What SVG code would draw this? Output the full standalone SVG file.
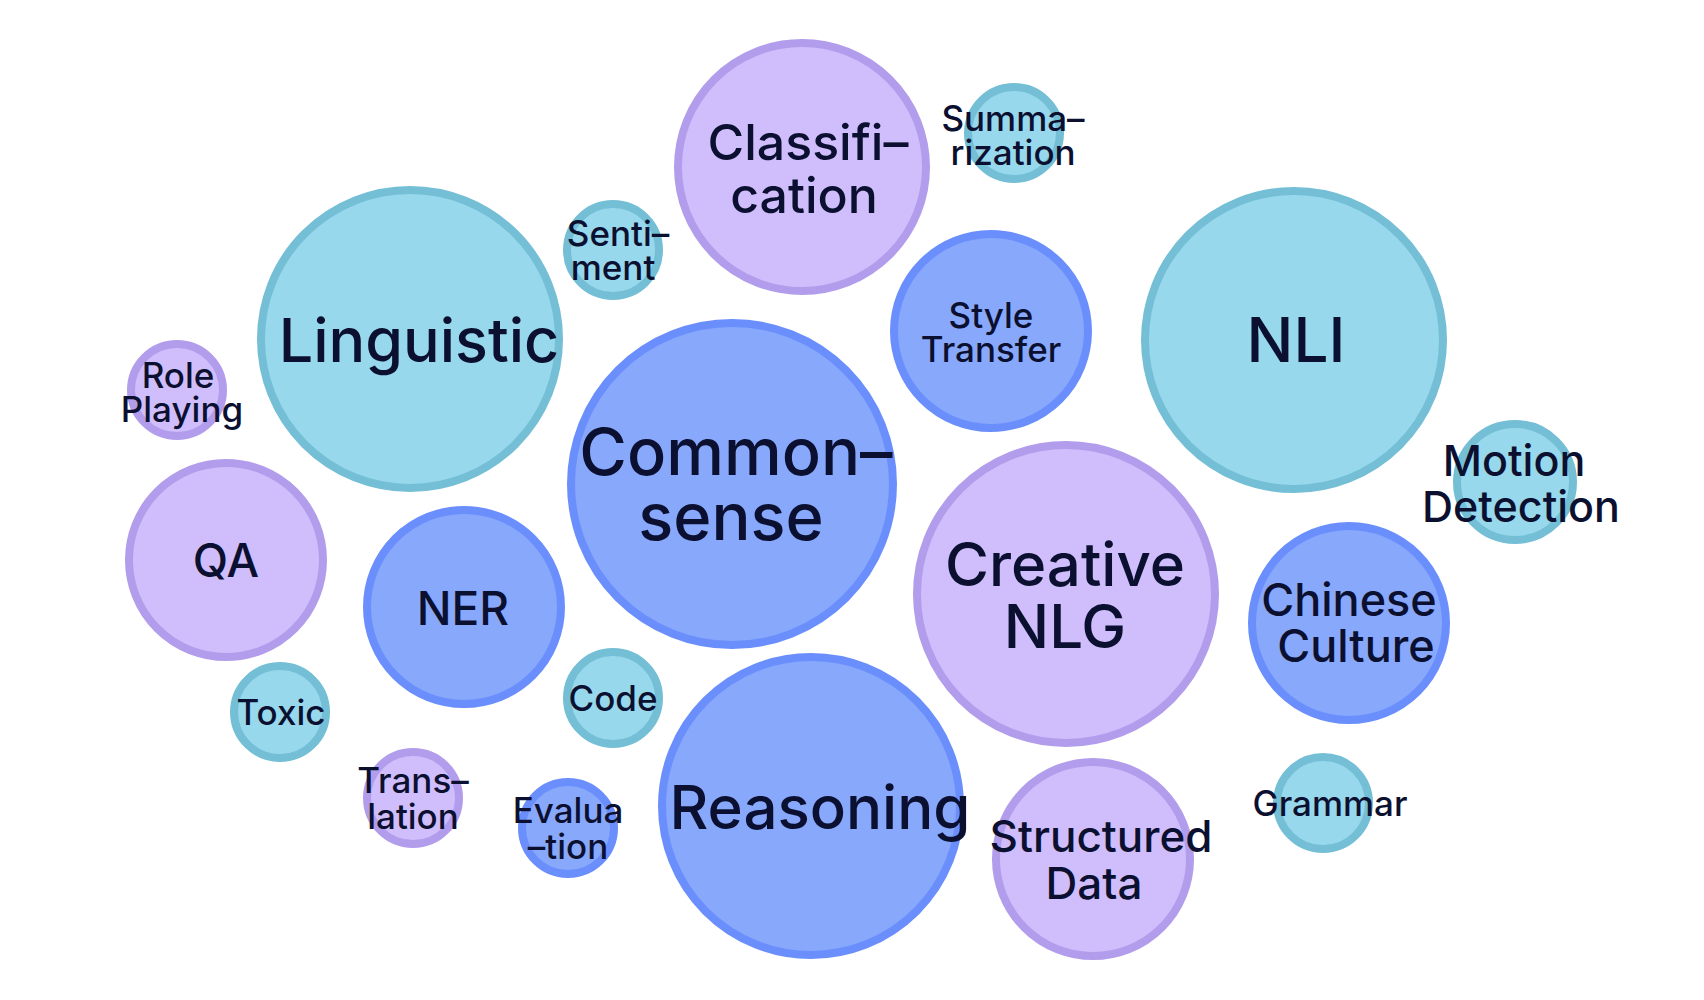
<svg xmlns="http://www.w3.org/2000/svg" width="1704" height="1000" viewBox="0 0 1704 1000">
<style>
.c{stroke-width:8}
.cy{fill:#98D8EC;stroke:#74BFD6}
.pu{fill:#D0BEFC;stroke:#B29DEC}
.bl{fill:#88A8FC;stroke:#6A8FFC}
text{font-family:Inter,"Noto Sans","Liberation Sans",sans-serif;font-weight:500;fill:#0B1030;text-anchor:middle}
</style>
<rect width="1704" height="1000" fill="#FFFFFF"/>
<g id="connectors"/>
<g id="classification"><circle class="c pu" cx="802" cy="167" r="124"/><text font-size="50"><tspan x="808" y="160">Classifi–</tspan><tspan x="804" y="213">cation</tspan></text></g>
<g id="summarization"><circle class="c cy" cx="1014" cy="133" r="46"/><text font-size="35"><tspan x="1013" y="131">Summa–</tspan><tspan x="1013" y="165">rization</tspan></text></g>
<g id="sentiment"><circle class="c cy" cx="613" cy="250" r="46"/><text font-size="35"><tspan x="618" y="246">Senti–</tspan><tspan x="613" y="280">ment</tspan></text></g>
<g id="linguistic"><circle class="c cy" cx="410" cy="339" r="149"/><text font-size="61" x="419" y="362">Linguistic</text></g>
<g id="style-transfer"><circle class="c bl" cx="991" cy="331" r="97"/><text font-size="35"><tspan x="991" y="328">Style</tspan><tspan x="991" y="362">Transfer</tspan></text></g>
<g id="nli"><circle class="c cy" cx="1294" cy="340" r="149"/><text font-size="62" x="1296" y="362">NLI</text></g>
<g id="role-playing"><circle class="c pu" cx="177" cy="390" r="46"/><text font-size="35"><tspan x="178" y="388">Role</tspan><tspan x="182" y="422">Playing</tspan></text></g>
<g id="commonsense"><circle class="c bl" cx="732" cy="484" r="161"/><text font-size="65"><tspan x="736" y="475">Common–</tspan><tspan x="731" y="540">sense</tspan></text></g>
<g id="motion-detection"><circle class="c cy" cx="1515" cy="482" r="58"/><text font-size="43"><tspan x="1514" y="476">Motion</tspan><tspan x="1521" y="522">Detection</tspan></text></g>
<g id="qa"><circle class="c pu" cx="226" cy="560" r="97"/><text font-size="46" x="226" y="577">QA</text></g>
<g id="ner"><circle class="c bl" cx="464" cy="607" r="97"/><text font-size="46" x="463" y="625">NER</text></g>
<g id="creative-nlg"><circle class="c pu" cx="1066" cy="594" r="149"/><text font-size="60"><tspan x="1065" y="586">Creative</tspan><tspan x="1065" y="648">NLG</tspan></text></g>
<g id="chinese-culture"><circle class="c bl" cx="1349" cy="623" r="97"/><text font-size="45"><tspan x="1349" y="616">Chinese</tspan><tspan x="1356" y="662">Culture</tspan></text></g>
<g id="toxic"><circle class="c cy" cx="280" cy="712" r="46"/><text font-size="35" x="281" y="725">Toxic</text></g>
<g id="code"><circle class="c cy" cx="613" cy="698" r="46"/><text font-size="35" x="613" y="711">Code</text></g>
<g id="reasoning"><circle class="c bl" cx="811" cy="806" r="149"/><text font-size="60" x="820" y="829">Reasoning</text></g>
<g id="structured-data"><circle class="c pu" cx="1093" cy="859" r="97"/><text font-size="44"><tspan x="1101" y="852">Structured</tspan><tspan x="1094" y="899">Data</tspan></text></g>
<g id="grammar"><circle class="c cy" cx="1323" cy="803" r="46"/><text font-size="35" x="1330" y="816">Grammar</text></g>
<g id="translation"><circle class="c pu" cx="413" cy="798" r="46"/><text font-size="35"><tspan x="413" y="793">Trans–</tspan><tspan x="413" y="829">lation</tspan></text></g>
<g id="evaluation"><circle class="c bl" cx="568" cy="828" r="46"/><text font-size="35"><tspan x="568" y="823">Evalua</tspan><tspan x="568" y="859">–tion</tspan></text></g>
</svg>
